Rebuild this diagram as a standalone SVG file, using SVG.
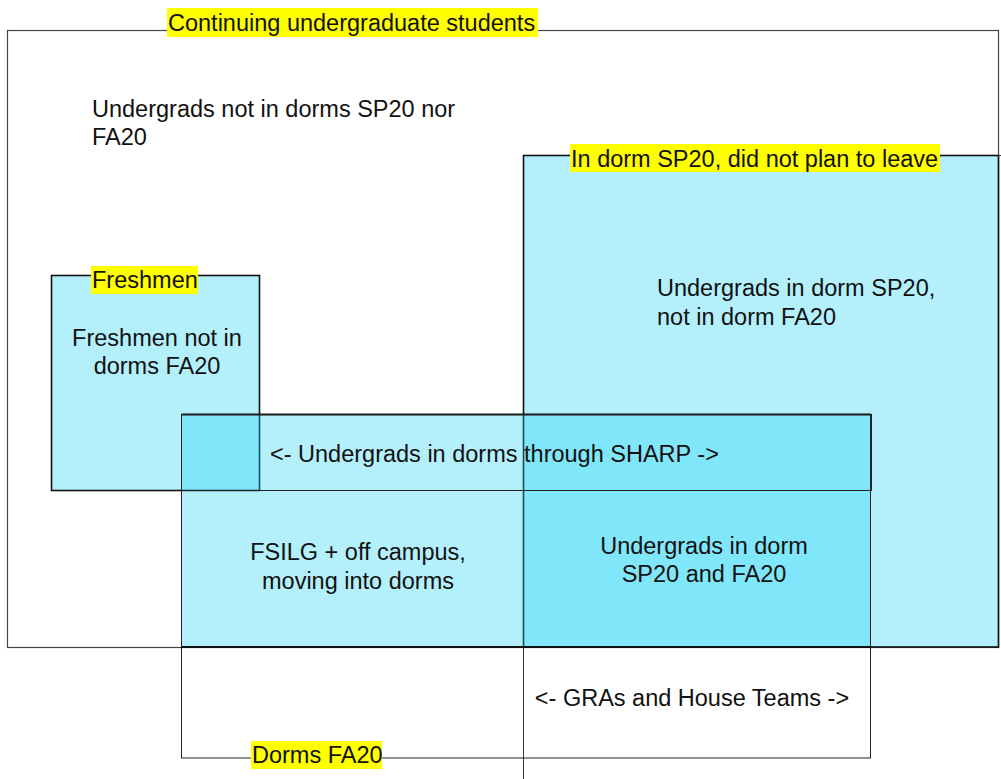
<svg xmlns="http://www.w3.org/2000/svg" width="1001" height="779" viewBox="0 0 1001 779">
<style>
text{font-family:"Liberation Sans",Arial,sans-serif;font-size:23.5px;fill:#111}
.c{text-anchor:middle}
.fill{fill:#19d2f6;fill-opacity:0.33}
.thick{fill:none;stroke:#111;stroke-width:1.6}
.thin{fill:none;stroke:#222;stroke-width:1}
.hl{fill:#ffff00}
</style>
<rect width="1001" height="779" fill="#fff"/>
<g id="continuing">
<rect x="7.5" y="30.5" width="991" height="617" fill="none" stroke="#444" stroke-width="1.2"/>
<rect class="hl" x="167" y="8" width="371" height="29"/>
<text x="168" y="31">Continuing undergraduate students</text>
<text x="92" y="117">Undergrads not in dorms SP20 nor</text>
<text x="92" y="145">FA20</text>
</g>
<g id="sp20">
<rect class="fill" x="523.5" y="155.5" width="475" height="491.5"/>
<rect class="thick" x="523.5" y="155.5" width="475" height="491.5"/>
<line x1="523.5" y1="647" x2="523.5" y2="779" stroke="#333" stroke-width="1"/>
<line x1="998" y1="155.5" x2="1001" y2="155.5" stroke="#333" stroke-width="1"/>
<rect class="hl" x="570" y="144" width="370" height="28"/>
<text x="571" y="167">In dorm SP20, did not plan to leave</text>
<text x="657" y="296">Undergrads in dorm SP20,</text>
<text x="657" y="325">not in dorm FA20</text>
</g>
<g id="freshmen">
<rect class="fill" x="51.5" y="275.5" width="208" height="215"/>
<rect class="thick" x="51.5" y="275.5" width="208" height="215"/>
<rect class="hl" x="91" y="266" width="107" height="28"/>
<text x="92" y="288">Freshmen</text>
<text class="c" x="157" y="346">Freshmen not in</text>
<text class="c" x="157" y="374">dorms FA20</text>
</g>
<g id="dorms-fa20">
<rect class="fill" x="181.5" y="414.5" width="689" height="232.5"/>
<rect class="thin" x="181.5" y="414.5" width="689" height="343.5"/>
<line x1="181.5" y1="414.5" x2="871" y2="414.5" stroke="#111" stroke-width="1.8"/>
<line x1="181.5" y1="647" x2="871" y2="647" stroke="#111" stroke-width="1.8"/>
<rect class="hl" x="251" y="741" width="131" height="28"/>
<text x="252" y="763">Dorms FA20</text>
<text class="c" x="358" y="560">FSILG + off campus,</text>
<text class="c" x="358" y="589">moving into dorms</text>
<text class="c" x="704" y="554">Undergrads in dorm</text>
<text class="c" x="704" y="582">SP20 and FA20</text>
<text class="c" x="692" y="706">&lt;- GRAs and House Teams -&gt;</text>
</g>
<g id="sharp">
<rect class="thin" x="181.5" y="414.5" width="690" height="76"/>
<text x="270" y="462">&lt;- Undergrads in dorms through SHARP -&gt;</text>
</g>
<g id="connectors"></g>
</svg>
